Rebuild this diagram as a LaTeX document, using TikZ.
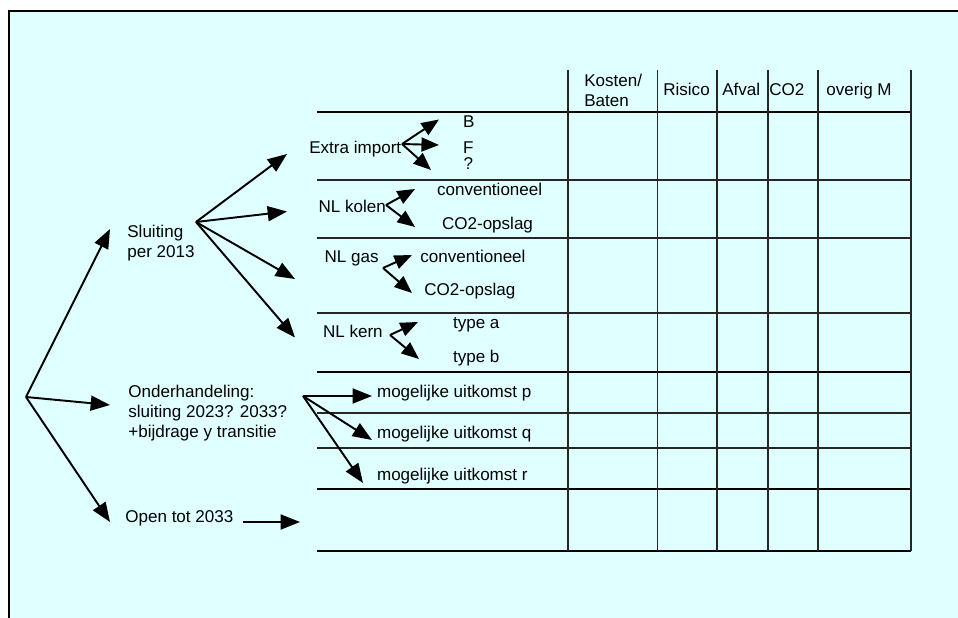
\documentclass[tikz,border=0pt]{standalone}
\usepackage{fontspec}
\setmainfont{Liberation Sans}
\usepackage{xcolor}
\usetikzlibrary{arrows.meta}
\definecolor{bgcyan}{RGB}{224,255,255}
\tikzset{
	lbl/.style={anchor=base west,inner sep=0pt,font=\fontsize{9.7}{11.3}\selectfont},
	ml/.style={lbl,align=left},
	pijl/.style={line width=1.1pt,-{Triangle[length=11pt,width=8.5pt]}},
	kpijl/.style={line width=1.1pt,-{Triangle[length=10pt,width=8pt]}},
	dun/.style={line width=0.6pt,black!85},
	dik/.style={line width=1.2pt},
}

\begin{document}
\begin{tikzpicture}[x=0.02cm,y=-0.02cm]
	\useasboundingbox (0,0) rectangle (958,618);
	\fill[white] (0,0) rectangle (958,618);
	\fill[bgcyan] (9,11) rectangle (958,618);
	\draw[line width=0.6pt] (9,618)--(9,11)--(958,11);
	% tabel
	\foreach \y in {180,238,313,413,448} \draw[dun] (317,\y)--(911,\y);
	\foreach \y in {112,372,489,551} \draw[dik] (317,\y)--(911,\y);
	\foreach \x in {568,657.5,717,768,818,911} \draw[dun] (\x,70)--(\x,551);
	\node[ml] (kosten) at (584,106.5) {Kosten/\\Baten};
	\node[lbl] (risico) at (663,96) {Risico};
	\node[lbl] (afval) at (722,96) {Afval};
	\node[lbl] (co2) at (769,96) {CO2};
	\node[lbl] (overig) at (826,96) {overig M};
	% opties links
	\node[ml] (sluiting) at (127,257.5) {Sluiting\\per 2013};
	\node[ml] (onderh) at (128,437.7) {Onderhandeling:\\sluiting 2023? 2033?\\+bijdrage y transitie};
	\node[lbl] (open) at (125,522.5) {Open tot 2033};
	% deelopties
	\node[lbl] (extra) at (309,153.3) {Extra import};
	\node[lbl] (exb) at (462.7,127.3) {B};
	\node[lbl] (exf) at (462.7,153.3) {F};
	\node[lbl] (exq) at (463.3,170) {?};
	\node[lbl] (kolen) at (318.3,212.3) {NL kolen};
	\node[lbl] (kolc) at (436.7,195.7) {conventioneel};
	\node[lbl] (kolo) at (441.7,229.3) {CO2-opslag};
	\node[lbl] (gas) at (324.3,262.7) {NL gas};
	\node[lbl] (gasc) at (420,262.7) {conventioneel};
	\node[lbl] (gaso) at (424,296) {CO2-opslag};
	\node[lbl] (kern) at (322.7,337.3) {NL kern};
	\node[lbl] (kerna) at (452.7,329) {type a};
	\node[lbl] (kernb) at (452.7,362.5) {type b};
	\node[lbl] (uitp) at (376.7,397.3) {mogelijke uitkomst p};
	\node[lbl] (uitq) at (376.7,438.3) {mogelijke uitkomst q};
	\node[lbl] (uitr) at (376.7,480.7) {mogelijke uitkomst r};
	% vertakkingen
	\coordinate (root) at (26,397);
	\coordinate (tsl) at (110,229);
	\coordinate (ton) at (110,405);
	\coordinate (topen) at (110,522);
	\coordinate (fsl) at (196,222);
	\coordinate (tex) at (287,154);
	\coordinate (tko) at (287,211.5);
	\coordinate (tga) at (295,279);
	\coordinate (tke) at (295,337.5);
	\coordinate (fex) at (402,144);
	\coordinate (texb) at (439,119.5);
	\coordinate (texf) at (439,145);
	\coordinate (texq) at (431,170);
	\coordinate (fko) at (386,205);
	\coordinate (tkoc) at (415,189);
	\coordinate (tkoo) at (415,227);
	\coordinate (fga) at (383,268);
	\coordinate (tgac) at (412,255);
	\coordinate (tgao) at (412,293);
	\coordinate (fke) at (390,335);
	\coordinate (tkea) at (418,322);
	\coordinate (tkeb) at (419,359);
	\coordinate (fon) at (303,396);
	\coordinate (tp) at (372,396);
	\coordinate (tq) at (372,440);
	\coordinate (tr) at (363,483);
	\coordinate (ostart) at (243,522);
	\coordinate (oend) at (300,522);
	\foreach \t in {tsl,ton,topen} \draw[pijl] (root)--(\t);
	\foreach \t in {tex,tko,tga,tke} \draw[pijl] (fsl)--(\t);
	\foreach \t in {texb,texf,texq} \draw[kpijl] (fex)--(\t);
	\foreach \t in {tkoc,tkoo} \draw[kpijl] (fko)--(\t);
	\foreach \t in {tgac,tgao} \draw[kpijl] (fga)--(\t);
	\foreach \t in {tkea,tkeb} \draw[kpijl] (fke)--(\t);
	\foreach \t in {tp,tq,tr} \draw[pijl] (fon)--(\t);
	\draw[pijl] (ostart)--(oend);
\end{tikzpicture}
\end{document}
